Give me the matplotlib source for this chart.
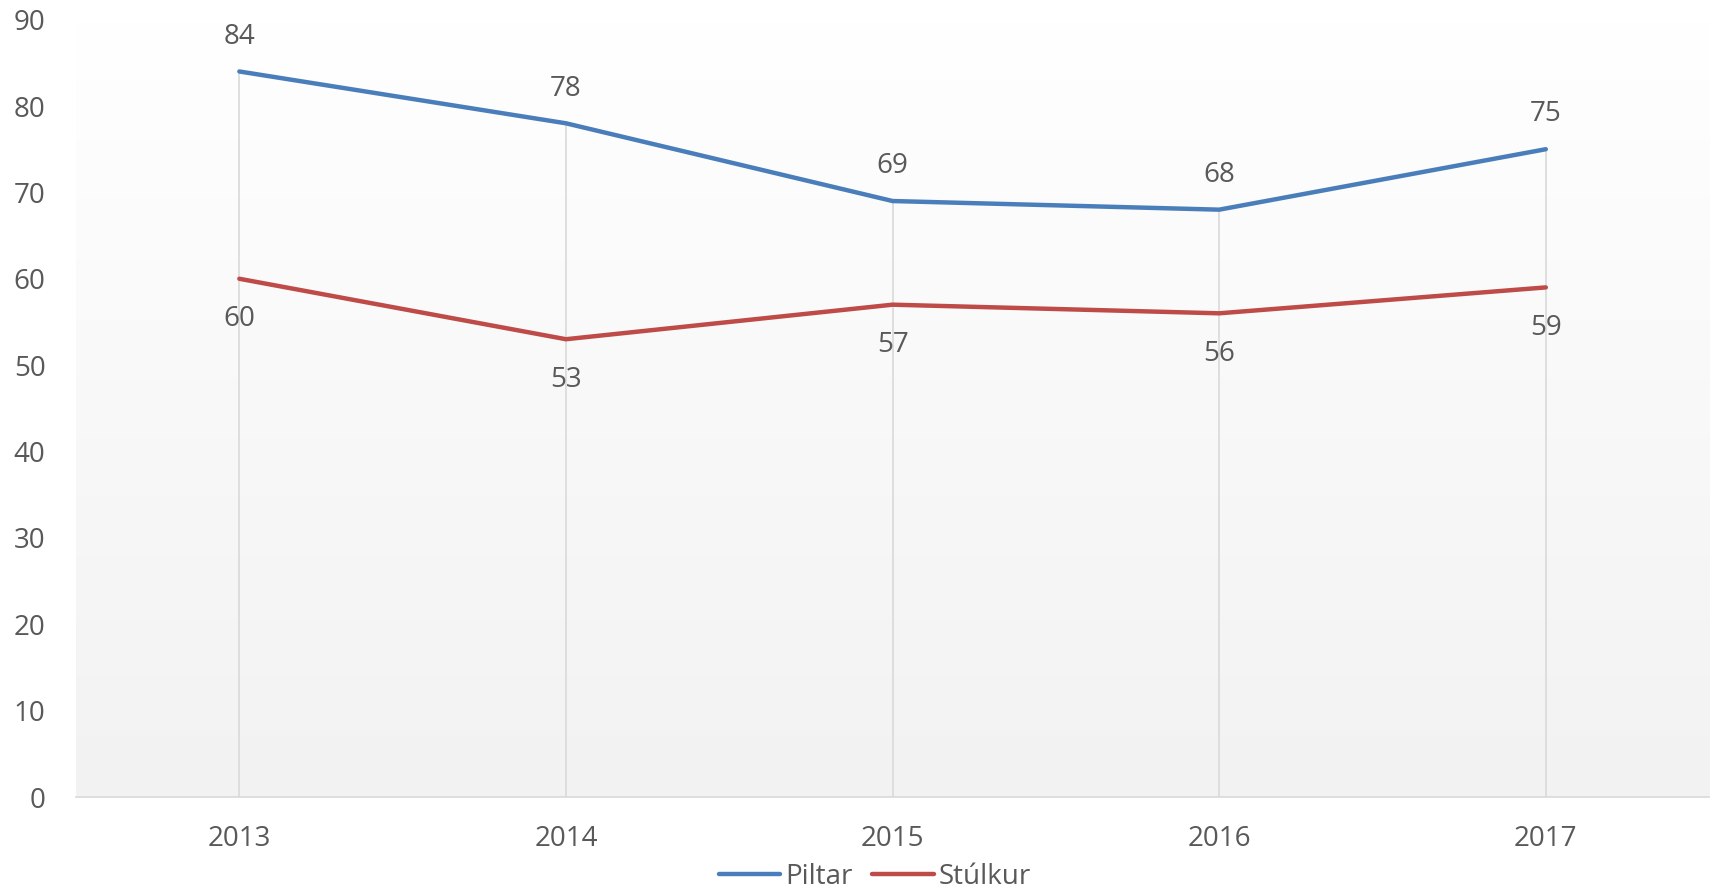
import matplotlib.pyplot as plt
import numpy as np

years = ['2013', '2014', '2015', '2016', '2017']
piltar = [84, 78, 69, 68, 75]
stulkur = [60, 53, 57, 56, 59]
y_ticks = [0, 10, 20, 30, 40, 50, 60, 70, 80, 90]

plt.rcParams['font.family'] = ['Open Sans', 'DejaVu Sans']
text_col = '#595959'
blue = '#4a7ebb'
red = '#be4b48'
fs = 20

fig = plt.figure(figsize=(17.16, 8.93), dpi=100)
ax = fig.add_axes([0.0443, 0.1075, 0.9517, 0.8705])

x = np.arange(len(years))
ax.set_xlim(-0.5, len(years) - 0.5)
ax.set_ylim(0, 90)

# gradient background, white at top to light grey at bottom
grad = np.linspace(1, 0, 256).reshape(-1, 1)
ax.imshow(grad, cmap=plt.matplotlib.colors.LinearSegmentedColormap.from_list('g', ['#f2f2f2', '#ffffff']),
          extent=[-0.5, len(years) - 0.5, 0, 90], aspect='auto', zorder=0, origin='upper')

# drop lines
tops = [max(a, b) for a, b in zip(piltar, stulkur)]
ax.vlines(x, 0, tops, color='#d9d9d9', lw=1.2, zorder=1)

ax.plot(x, piltar, color=blue, lw=3.2, solid_capstyle='round', label='Piltar', zorder=3)
ax.plot(x, stulkur, color=red, lw=3.2, solid_capstyle='round', label='Stúlkur', zorder=3)

for xi, v in zip(x, piltar):
    ax.annotate(str(v), (xi, v), xytext=(0, 25), textcoords='offset points',
                ha='center', va='center', fontsize=fs, color=text_col)
for xi, v in zip(x, stulkur):
    ax.annotate(str(v), (xi, v), xytext=(0, -29), textcoords='offset points',
                ha='center', va='center', fontsize=fs, color=text_col)

ax.set_xticks(x)
ax.set_xticklabels(years)
ax.set_yticks(y_ticks)
ax.tick_params(axis='both', length=0, labelsize=fs, labelcolor=text_col)
ax.tick_params(axis='x', pad=20)
ax.tick_params(axis='y', pad=22)
for s in ['top', 'right', 'left']:
    ax.spines[s].set_visible(False)
ax.spines['bottom'].set_color('#d9d9d9')
ax.spines['bottom'].set_linewidth(1.2)

leg = fig.legend(loc='center', bbox_to_anchor=(0.51, 0.018), ncol=2, frameon=False,
                 fontsize=fs, handlelength=2.2, columnspacing=0.7, handletextpad=0.2)
for t in leg.get_texts():
    t.set_color(text_col)

fig.savefig('out.png', dpi=100)
